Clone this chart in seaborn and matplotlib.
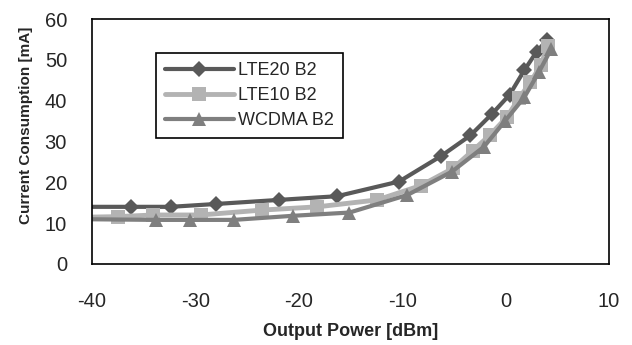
import pandas as pd
import seaborn as sns
import matplotlib.pyplot as plt

# values
lte20_x = [-42, -36.2, -32.4, -28.0, -21.9, -16.3, -10.3, -6.2, -3.4, -1.3, 0.4, 1.8, 3.0, 4.0]
lte20_y = [14.0, 14.0, 14.0, 14.7, 15.7, 16.6, 20.2, 26.5, 31.5, 36.8, 41.5, 47.4, 52.0, 54.8]

lte10_x = [-42, -37.5, -34.1, -29.5, -23.6, -18.2, -12.4, -8.2, -5.1, -3.2, -1.5, 0.1, 1.3, 2.4, 3.4, 4.1]
lte10_y = [11.4, 11.6, 12.0, 12.0, 13.2, 14.0, 15.7, 19.2, 23.4, 27.7, 31.6, 35.9, 40.6, 44.5, 48.7, 53.5]

wcdma_x = [-42, -33.8, -30.5, -26.3, -20.6, -15.1, -9.5, -5.2, -2.1, -0.1, 1.8, 3.2, 4.4]
wcdma_y = [11.0, 10.8, 10.8, 10.8, 11.8, 12.6, 16.9, 22.6, 28.7, 34.9, 40.8, 46.9, 52.6]

series = ["LTE20 B2", "LTE10 B2", "WCDMA B2"]
colors = ["#595959", "#b3b3b3", "#7f7f7f"]
markers = ["D", "s", "^"]
msizes = [8, 10, 10]
lwidths = [3, 3.5, 3]

df = pd.concat([
    pd.DataFrame({"Output Power": lte20_x, "Current": lte20_y, "Band": series[0]}),
    pd.DataFrame({"Output Power": lte10_x, "Current": lte10_y, "Band": series[1]}),
    pd.DataFrame({"Output Power": wcdma_x, "Current": wcdma_y, "Band": series[2]}),
])

sns.set_style("white")
plt.rcParams["font.family"] = ["Liberation Sans", "DejaVu Sans"]
plt.rcParams["axes.unicode_minus"] = False

fig = plt.figure(figsize=(6.32, 3.45), dpi=100)
ax = fig.add_axes([0.1456, 0.2348, 0.818, 0.7101])

for name, c, m, ms, lw in zip(series, colors, markers, msizes, lwidths):
    sns.lineplot(data=df[df["Band"] == name], x="Output Power", y="Current",
                 color=c, marker=m, markersize=ms, markeredgewidth=0,
                 linewidth=lw, label=name, sort=False, ax=ax)

ax.set_xlim(-40, 10)
ax.set_ylim(0, 60)
ax.set_xticks(range(-40, 11, 10))
ax.set_yticks(range(0, 61, 10))
ax.tick_params(axis="x", direction="in", length=5, width=1, color="black",
               labelsize=14.5, pad=20)
ax.tick_params(axis="y", length=0, labelsize=14.5, pad=18)
for s in ax.spines.values():
    s.set_color("black")
    s.set_linewidth(1.2)

ax.set_xlabel("Output Power [dBm]", fontsize=13, fontweight="bold", labelpad=9)
ax.set_ylabel("Current Consumption [mA]", fontsize=11, fontweight="bold")
ax.yaxis.set_label_coords(-0.115, 0.567)

leg = ax.legend(loc="upper left", bbox_to_anchor=(0.124, 0.861), borderaxespad=0,
                fontsize=13, frameon=True, fancybox=False, framealpha=1,
                edgecolor="black", borderpad=0.5, handlelength=3.8,
                handletextpad=0.25, labelspacing=0.45)
leg.get_frame().set_linewidth(1.2)

plt.savefig("out.png", dpi=100)
